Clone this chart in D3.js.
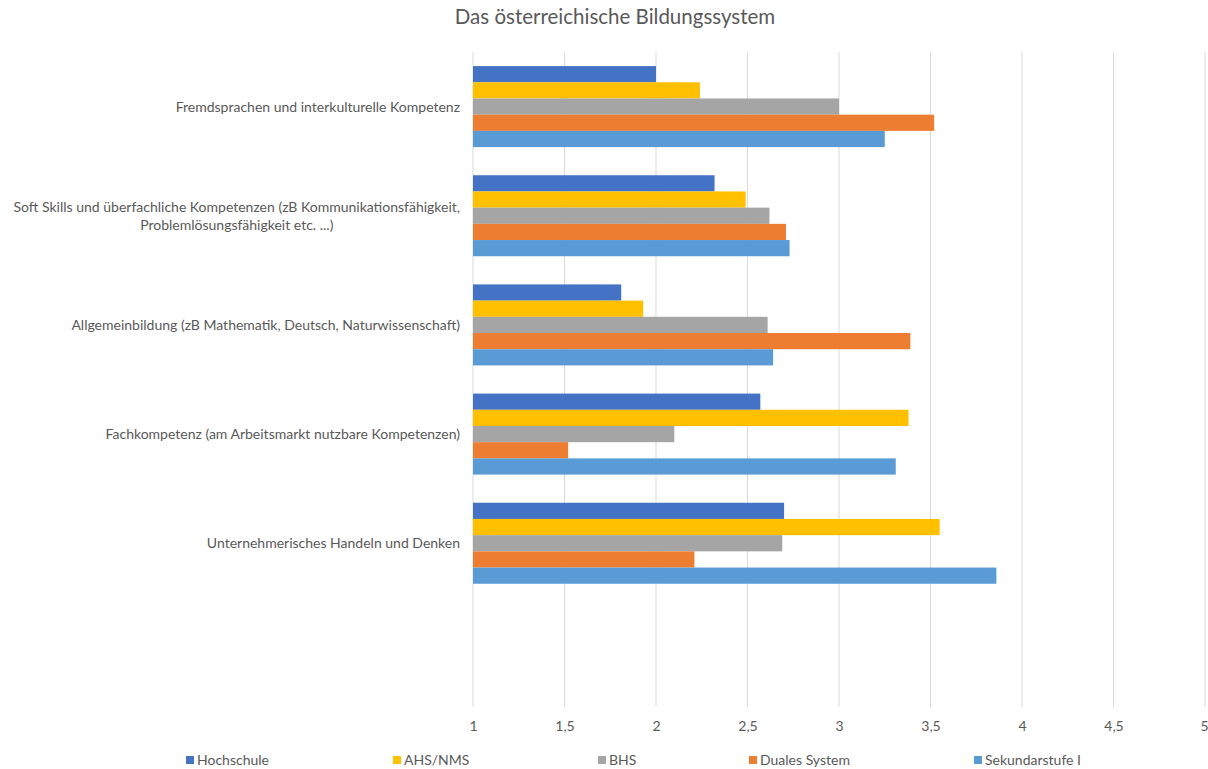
<!DOCTYPE html>
<html><head><meta charset="utf-8">
<script src="https://cdn.jsdelivr.net/npm/d3@7"></script>
<style>body{margin:0;background:#fff;} svg{display:block;font-family:Lato, "Open Sans", sans-serif;}</style>
</head><body>
<svg id="c" width="1208" height="769"></svg>
<script>
const categories = [
  ["Fremdsprachen und interkulturelle Kompetenz"],
  ["Soft Skills und überfachliche Kompetenzen (zB Kommunikationsfähigkeit,", "Problemlösungsfähigkeit etc. ...)"],
  ["Allgemeinbildung (zB Mathematik, Deutsch, Naturwissenschaft)"],
  ["Fachkompetenz (am Arbeitsmarkt nutzbare Kompetenzen)"],
  ["Unternehmerisches Handeln und Denken"],
  [""]
];
const seriesNames = ["Hochschule", "AHS/NMS", "BHS", "Duales System", "Sekundarstufe I"];
const seriesColors = ["#4472C4", "#FFC000", "#A5A5A5", "#ED7D31", "#5B9BD5"];
const hochschule = [2.00, 2.32, 1.81, 2.57, 2.70, null];
const ahsNms     = [2.24, 2.49, 1.93, 3.38, 3.55, null];
const bhs        = [3.00, 2.62, 2.61, 2.10, 2.69, null];
const duales     = [3.52, 2.71, 3.39, 1.52, 2.21, null];
const sekI       = [3.25, 2.73, 2.64, 3.31, 3.86, null];
const tickValues = [1, 1.5, 2, 2.5, 3, 3.5, 4, 4.5, 5];
const title = "Das österreichische Bildungssystem";

const series = [hochschule, ahsNms, bhs, duales, sekI];
const svg = d3.select("#c");
const pLeft = 473, pRight = 1205, pTop = 52, pBottom = 707;

const x = d3.scaleLinear().domain([1, 5]).range([pLeft, pRight]);
const y = d3.scaleBand().domain(d3.range(categories.length)).range([pTop, pBottom]).paddingInner(0.258).paddingOuter(0.129);
const ys = d3.scaleBand().domain(d3.range(series.length)).range([0, y.bandwidth()]);

svg.append("text").attr("x", 615).attr("y", 24).attr("text-anchor", "middle")
  .attr("font-size", 20.5).attr("fill", "#595959").text(title);

// gridlines
svg.append("g").selectAll("line").data(tickValues).join("line")
  .attr("x1", d => x(d)).attr("x2", d => x(d)).attr("y1", pTop).attr("y2", pBottom)
  .attr("stroke", "#D9D9D9").attr("stroke-width", 1);

// bars
const groups = svg.append("g").selectAll("g").data(categories.map((c, i) => i)).join("g")
  .attr("transform", i => `translate(0,${y(i)})`);
groups.selectAll("rect").data(i => series.map((s, k) => ({k, v: s[i]})).filter(d => d.v != null)).join("rect")
  .attr("x", x(1)).attr("y", d => ys(d.k)).attr("height", ys.bandwidth())
  .attr("width", d => x(d.v) - x(1)).attr("fill", d => seriesColors[d.k]);

// axis labels
const fmt = v => String(v).replace(".", ",");
const xAxis = d3.axisBottom(x).tickValues(tickValues).tickFormat(fmt).tickSize(0).tickPadding(0);
const ax = svg.append("g").attr("transform", `translate(0,${pBottom})`).call(xAxis);
ax.select(".domain").remove();
ax.selectAll("text").attr("dy", null).attr("y", 24).attr("font-size", 14).attr("fill", "#595959").attr("font-family", "Lato, sans-serif");
ax.selectAll(".tick").filter(d => d === 5).select("text").attr("text-anchor", "end").attr("x", 3);

// category labels
const lab = svg.append("g");
categories.forEach((lines, i) => {
  const cy = y(i) + y.bandwidth() / 2;
  const lh = 18;
  const g = lab.append("g");
  const texts = lines.map((l, j) => g.append("text").attr("font-size", 14).attr("fill", "#595959")
      .attr("y", cy + (j - (lines.length - 1) / 2) * lh + 5).text(l));
  const widths = texts.map(t => t.node().getComputedTextLength());
  const w = d3.max(widths);
  const cx = 460 - w / 2;
  texts.forEach(t => t.attr("x", cx).attr("text-anchor", "middle"));
});

// legend
const legX = [186, 393, 598, 749, 974];
const leg = svg.append("g");
seriesNames.forEach((n, k) => {
  leg.append("rect").attr("x", legX[k]).attr("y", 756).attr("width", 8).attr("height", 8).attr("fill", seriesColors[k]);
  leg.append("text").attr("x", legX[k] + 11).attr("y", 764.5).attr("font-size", 14).attr("fill", "#595959").text(n);
});
</script>
</body></html>
